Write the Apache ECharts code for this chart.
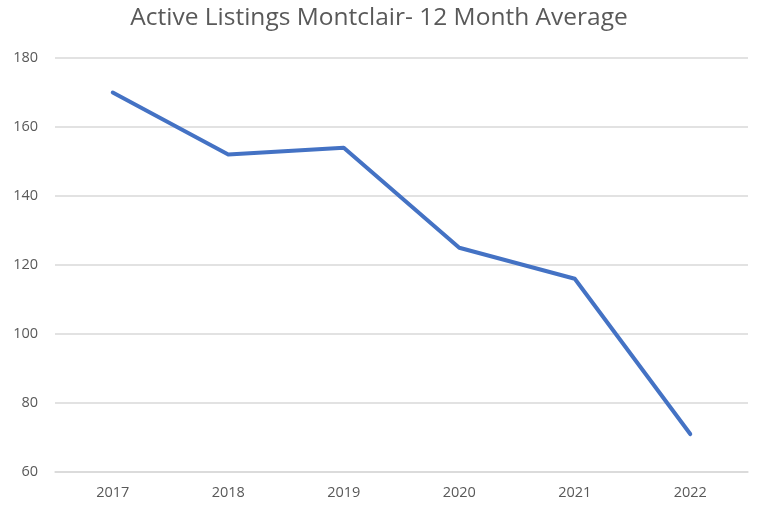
<!DOCTYPE html>
<html><head><meta charset="utf-8">
<script src="https://cdn.jsdelivr.net/npm/echarts@6/dist/echarts.min.js"></script>
<style>html,body{margin:0;padding:0;background:#fff}#c{width:758px;height:513px}</style>
</head><body><div id="c"></div>
<script>
const categories = ['2017','2018','2019','2020','2021','2022'];
const listings = [170, 152, 154, 125, 116, 71];
const yTicks = {min: 60, max: 180, interval: 20};
const chart = echarts.init(document.getElementById('c'));
chart.setOption({
  animation: false,
  title: {text: 'Active Listings Montclair- 12 Month Average', left: 'center', top: 1,
    textStyle: {fontFamily: 'Open Sans', fontSize: 24.5, fontWeight: 'normal', color: '#595959'}},
  grid: {left: 55, right: 10, top: 58, bottom: 41},
  xAxis: {type: 'category', data: categories, boundaryGap: true,
    axisLine: {lineStyle: {color: '#d9d9d9', width: 1.5}}, axisTick: {show: false},
    axisLabel: {color: '#595959', fontFamily: 'Open Sans', fontSize: 14.5, margin: 13}},
  yAxis: {type: 'value', min: yTicks.min, max: yTicks.max, interval: yTicks.interval,
    axisLine: {show: false}, axisTick: {show: false},
    splitLine: {lineStyle: {color: '#d9d9d9', width: 1.5}},
    axisLabel: {color: '#595959', fontFamily: 'Open Sans', fontSize: 14.5, margin: 17}},
  series: [{type: 'line', data: listings, symbol: 'none',
    lineStyle: {color: '#4472C4', width: 4, cap: 'round', join: 'round'}}]
});
</script></body></html>
